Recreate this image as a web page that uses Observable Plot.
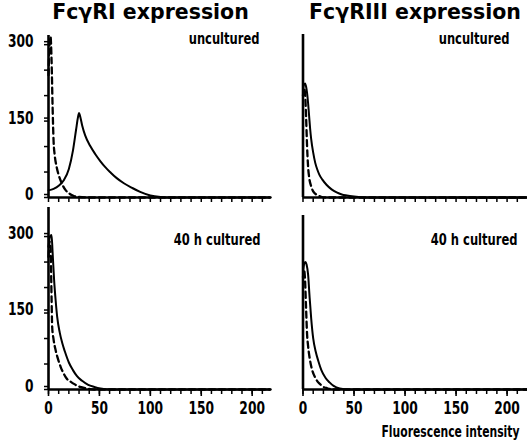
<!DOCTYPE html>
<html><head><meta charset="utf-8">
<script src="https://cdn.jsdelivr.net/npm/d3@7"></script>
<script src="https://cdn.jsdelivr.net/npm/@observablehq/plot@0.6"></script>
<style>
html,body{margin:0;padding:0;background:#fff;}
#chart{position:relative;width:527px;height:443px;overflow:hidden;background:#fff;}
#chart svg{position:absolute;overflow:visible;}
</style></head><body><div id="chart"></div>
<script>
// ---- text ----
const titles = ["FcγRI expression", "FcγRIII expression"];
const conditions = ["uncultured", "40 h cultured"];
const xAxisLabel = "Fluorescence intensity";
// ---- ticks ----
const xTickLabels = [0, 50, 100, 150, 200];
const xMinorTicks = [0, 10, 20, 30, 40, 50, 60, 70, 80, 90, 100, 110, 120, 130, 140, 150, 160, 170, 180, 190, 200, 210];
const yTickLabels = [0, 150, 300];
const yMinorTicks = [0, 50, 100, 150, 200, 250, 300];

// ---- series: [fluorescence intensity, count] ----
const fc1UnculturedSolid = [[0,14],[5,17],[10,23],[15,34],[20,56],[24,92],[27,132],[29,158],[30,166],[31,160],[33,142],[36,122],[41,101],[46,85],[51,71],[56,59],[61,49],[67,38],[74,28],[82,19],[90,11],[100,4],[110,1],[120,0],[218,0]];
const fc1UnculturedDashed = [[0,240],[1,300],[2,316],[3,270],[4,180],[5,110],[6,85],[8,60],[10,44],[13,28],[17,14],[21,7],[25,3],[30,1],[40,0],[218,0]];
const fc3UnculturedSolid = [[0,210],[1,222],[2,224],[3,218],[4,205],[5,185],[6,160],[7,135],[8,115],[10,88],[12,68],[14,55],[16,45],[19,35],[23,25],[28,16],[33,10],[38,6],[43,4],[50,2],[60,0],[220,0]];
const fc3UnculturedDashed = [[0,200],[1,215],[2,205],[3,160],[4,100],[5,60],[6,40],[8,22],[10,12],[13,6],[17,2],[22,0],[220,0]];
const fc1CulturedSolid = [[0,280],[1.5,300],[3,303],[4,270],[5.5,215],[7,175],[8.5,143],[11,112],[13.5,91],[16,75],[20,53],[24,38],[28,26],[33,17],[39,9],[45,5],[51,2],[60,0],[218,0]];
const fc1CulturedDashed = [[0,260],[1,290],[2,280],[3,180],[3.6,123],[5,98],[7,77],[9,62],[12,44],[15,31],[18,21],[22,15],[25,11],[31,5],[38,2],[45,0],[218,0]];
const fc3CulturedSolid = [[0,230],[1,245],[2.3,250],[3.5,245],[5,225],[6.5,180],[8,140],[10,100],[12.5,74],[15,56],[18,38],[22,23],[26,14],[30,7],[36,2],[45,0],[220,0]];
const fc3CulturedDashed = [[0,220],[1,235],[2,215],[3,160],[4,108],[5,85],[7,56],[9,38],[12,23],[14.5,15],[17,10],[20,5],[23,3],[30,0],[220,0]];

const LABEL_FONT = "'Liberation Sans Narrow', 'DejaVu Sans Condensed', sans-serif";
const TITLE_FONT = "'DejaVu Sans', sans-serif";

function panel(o) {
  const marks = [
    Plot.line(o.dashed, {x: d => d[0], y: d => d[1], stroke: "black", strokeWidth: 2.3, strokeDasharray: "6,4", curve: "monotone-x"}),
    Plot.line(o.solid, {x: d => d[0], y: d => d[1], stroke: "black", strokeWidth: 2, curve: "monotone-x"}),
    Plot.ruleX([0], {stroke: "black", strokeWidth: 2.6}),
    Plot.ruleY([0], {stroke: "black", strokeWidth: 2.6}),
    Plot.axisX(xMinorTicks.filter(t => t <= o.xMax), {tickSize: 5, strokeWidth: 1.5, tickFormat: () => "", label: null}),
  ];
  if (o.xLabels) {
    marks.push(Plot.axisX(xTickLabels, {tickSize: 7, strokeWidth: 1.6, tickPadding: 5, fontSize: 17, fontWeight: "bold", fontFamily: LABEL_FONT, label: null, className: "condense"}));
  }
  if (o.yLabels) {
    marks.push(Plot.axisY(yMinorTicks, {tickSize: 4, strokeWidth: 1.5, tickFormat: () => "", label: null}));
    marks.push(Plot.axisY(yTickLabels, {tickSize: 4, strokeWidth: 1.5, tickPadding: 11, dy: -3, fontSize: 17, fontWeight: "bold", fontFamily: LABEL_FONT, label: null, className: "condense"}));
  }
  if (o.title) {
    marks.push(Plot.text([o.title], {text: d => d, frameAnchor: "top-left", dx: o.titleDx, dy: o.titleDy, textAnchor: "middle", lineAnchor: "middle", fontSize: 20.5, fontWeight: "bold", fontFamily: TITLE_FONT}));
  }
  marks.push(Plot.text([o.note], {text: d => d, frameAnchor: "top-right", dx: o.noteDx, dy: o.noteDy, textAnchor: "end", lineAnchor: "middle", fontSize: 16, fontWeight: "bold", fontFamily: LABEL_FONT, className: "condense"}));
  if (o.xTitle) {
    marks.push(Plot.text([o.xTitle], {text: d => d, frameAnchor: "bottom-right", dx: -8, dy: 43, textAnchor: "end", lineAnchor: "middle", fontSize: 15, fontWeight: "bold", fontFamily: LABEL_FONT, className: "condense"}));
  }
  const svg = Plot.plot({
    width: o.width, height: o.height,
    marginLeft: o.marginLeft, marginRight: 0, marginTop: o.marginTop, marginBottom: o.marginBottom,
    style: {background: "transparent", overflow: "visible", fontFamily: LABEL_FONT, color: "black"},
    x: {domain: [0, o.xMax]},
    y: {domain: [0, o.yMax], axis: o.yLabels ? undefined : null},
    marks
  });
  svg.style.left = o.left + "px";
  svg.style.top = o.top + "px";
  document.getElementById("chart").appendChild(svg);
  // narrow the label glyphs (the original uses a condensed typeface)
  svg.querySelectorAll(".condense text, text.condense").forEach(t => {
    const w = t.getComputedTextLength();
    if (w > 0) {
      t.setAttribute("textLength", (w * 0.8).toFixed(1));
      t.setAttribute("lengthAdjust", "spacingAndGlyphs");
    }
  });
}

panel({solid: fc1UnculturedSolid, dashed: fc1UnculturedDashed, xMax: 218, yMax: 318,
  left: 0, top: 0, width: 270, height: 200, marginLeft: 48, marginTop: 35, marginBottom: 3,
  xLabels: false, yLabels: true, title: titles[0], titleDx: 102, titleDy: -23, note: conditions[0], noteDx: -11, noteDy: 3});
panel({solid: fc3UnculturedSolid, dashed: fc3UnculturedDashed, xMax: 220, yMax: 320,
  left: 270, top: 0, width: 257, height: 200, marginLeft: 32.5, marginTop: 34, marginBottom: 3,
  xLabels: false, yLabels: false, title: titles[1], titleDx: 112, titleDy: -22, note: conditions[0], noteDx: -18, noteDy: 4});
panel({solid: fc1CulturedSolid, dashed: fc1CulturedDashed, xMax: 218, yMax: 357,
  left: 0, top: 200, width: 270, height: 243, marginLeft: 48, marginTop: 7, marginBottom: 54,
  xLabels: true, yLabels: true, note: conditions[1], noteDx: -10, noteDy: 32});
panel({solid: fc3CulturedSolid, dashed: fc3CulturedDashed, xMax: 220, yMax: 341,
  left: 270, top: 200, width: 257, height: 243, marginLeft: 32.5, marginTop: 15, marginBottom: 54,
  xLabels: true, yLabels: false, note: conditions[1], noteDx: -10, noteDy: 24, xTitle: xAxisLabel});
</script></body></html>
